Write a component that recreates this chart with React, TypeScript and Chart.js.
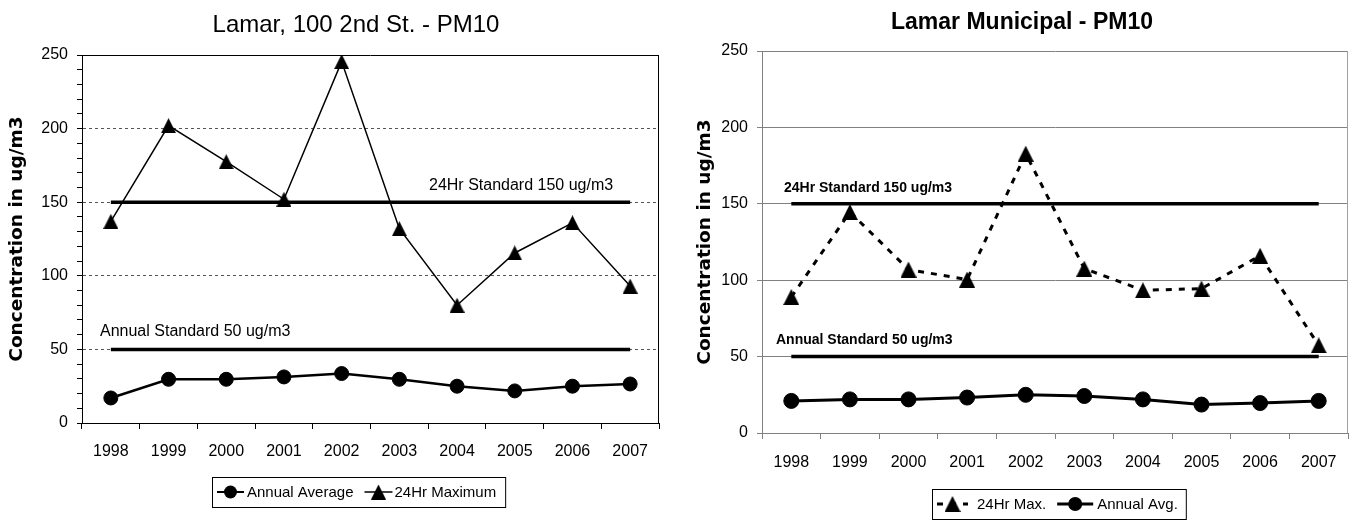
import React, { useEffect, useRef } from 'react';
import { Chart, registerables } from 'chart.js';

Chart.register(...registerables);

// ---------------- data ----------------
const YEARS = ['1998', '1999', '2000', '2001', '2002', '2003', '2004', '2005', '2006', '2007'];

const LEFT_ANNUAL_AVERAGE = [17, 29.7, 29.7, 31.3, 33.6, 29.7, 25, 21.8, 25, 26.5];
const LEFT_24HR_MAXIMUM = [137, 202, 177.5, 152, 245.5, 132, 80, 115.5, 136, 93];

const RIGHT_24HR_MAX = [89, 144.6, 107, 100.4, 182.8, 107.6, 93.4, 94.5, 116, 57.4];
const RIGHT_ANNUAL_AVG = [21, 22, 22, 23.2, 25, 24.2, 22, 18.6, 19.6, 21];

const STANDARD_24HR = [150, 150, 150, 150, 150, 150, 150, 150, 150, 150];
const STANDARD_ANNUAL = [50, 50, 50, 50, 50, 50, 50, 50, 50, 50];

const Y_MAJOR_TICKS = [0, 50, 100, 150, 200, 250];
const Y_MINOR_TICKS = [0, 10, 20, 30, 40, 50, 60, 70, 80, 90, 100, 110, 120, 130, 140, 150, 160, 170, 180, 190, 200, 210, 220, 230, 240, 250];

const LEFT_TITLE = 'Lamar, 100 2nd St. - PM10';
const RIGHT_TITLE = 'Lamar Municipal - PM10';
const Y_TITLE = 'Concentration in ug/m3';
const LABEL_24HR_STD = '24Hr Standard 150 ug/m3';
const LABEL_ANNUAL_STD = 'Annual Standard 50 ug/m3';

// ---------------- helpers ----------------
const SANS = "'Liberation Sans', Arial, sans-serif";

function makeTriangle(w: number, h: number): HTMLCanvasElement {
  const c = document.createElement('canvas');
  c.width = w;
  c.height = h;
  const g = c.getContext('2d')!;
  g.fillStyle = '#000';
  g.beginPath();
  g.moveTo(w / 2, 0);
  g.lineTo(w, h);
  g.lineTo(0, h);
  g.closePath();
  g.fill();
  return c;
}

type LegendItem = {
  label: string;
  marker: 'circle' | 'triangle';
  radius: number;
  tri?: HTMLCanvasElement;
  lineWidth: number;
  dash: number[];
  lineLen: number;
  textGap: number;
  after: number;
};

type Panel = {
  width: number;
  areaTop: number;
  padRight: number;
  xHeight: number;
  xLabelPad: number;
  minorTicks: boolean;
  gridColor: string;
  gridDash: number[];
  axisColor: string;
  frameTop: string | null;
  frameRight: string | null;
  title: { text: string; font: string; x: number; y: number };
  yTitle: { x: number; font: string };
  stdFont: string;
  stdLabels: { text: string; value: number; dx: number; dy: number }[];
  legend: { x: number; y: number; h: number; font: string; padL: number; items: LegendItem[] };
  datasets: any[];
};

function makeDecor(p: Panel) {
  return {
    id: 'decor',
    beforeDatasetsDraw(chart: any) {
      const { ctx, chartArea: a } = chart;
      ctx.save();
      ctx.lineWidth = 1;
      if (p.frameTop) {
        ctx.strokeStyle = p.frameTop;
        ctx.beginPath();
        ctx.moveTo(a.left, a.top + 0.5);
        ctx.lineTo(a.right, a.top + 0.5);
        ctx.stroke();
      }
      if (p.frameRight) {
        ctx.strokeStyle = p.frameRight;
        ctx.beginPath();
        ctx.moveTo(a.right - 0.5, a.top);
        ctx.lineTo(a.right - 0.5, a.bottom);
        ctx.stroke();
      }
      ctx.restore();
    },
    afterDraw(chart: any) {
      const { ctx, chartArea: a } = chart;
      const y = chart.scales.y;
      ctx.save();
      ctx.fillStyle = '#000';
      // title
      ctx.font = p.title.font;
      ctx.textAlign = 'center';
      ctx.textBaseline = 'alphabetic';
      ctx.fillText(p.title.text, p.title.x, p.title.y);
      // y title
      ctx.save();
      ctx.translate(p.yTitle.x, (a.top + a.bottom) / 2);
      ctx.rotate(-Math.PI / 2);
      ctx.font = p.yTitle.font;
      ctx.textAlign = 'center';
      ctx.textBaseline = 'middle';
      ctx.fillText(Y_TITLE, 0, 0);
      ctx.restore();
      // standard labels
      ctx.font = p.stdFont;
      ctx.textAlign = 'left';
      ctx.textBaseline = 'middle';
      for (const s of p.stdLabels) {
        ctx.fillText(s.text, a.left + s.dx, y.getPixelForValue(s.value) + s.dy);
      }
      // legend
      const L = p.legend;
      ctx.font = L.font;
      const cy = L.y + L.h / 2;
      let x = L.x + L.padL;
      const draws: (() => void)[] = [];
      for (const it of L.items) {
        const x0 = x;
        const x1 = x + it.lineLen;
        x = x1 + it.textGap;
        const tx = x;
        x += ctx.measureText(it.label).width + it.after;
        draws.push(() => {
          ctx.save();
          ctx.strokeStyle = '#000';
          ctx.lineWidth = it.lineWidth;
          ctx.setLineDash(it.dash);
          ctx.beginPath();
          ctx.moveTo(x0, cy);
          ctx.lineTo(x1, cy);
          ctx.stroke();
          ctx.setLineDash([]);
          const mx = (x0 + x1) / 2;
          if (it.marker === 'circle') {
            ctx.fillStyle = '#000';
            ctx.beginPath();
            ctx.arc(mx, cy, it.radius, 0, Math.PI * 2);
            ctx.fill();
          } else if (it.tri) {
            ctx.drawImage(it.tri, mx - it.tri.width / 2, cy - it.tri.height / 2);
          }
          ctx.fillStyle = '#000';
          ctx.font = L.font;
          ctx.textAlign = 'left';
          ctx.textBaseline = 'middle';
          ctx.fillText(it.label, tx, cy + 1);
          ctx.restore();
        });
      }
      const w = x - L.x;
      ctx.fillStyle = '#fff';
      ctx.fillRect(L.x, L.y, w, L.h);
      ctx.strokeStyle = '#000';
      ctx.lineWidth = 1;
      ctx.strokeRect(L.x + 0.5, L.y + 0.5, w, L.h);
      draws.forEach((d) => d());
      ctx.restore();
    },
  };
}

function buildConfig(p: Panel): any {
  const tickFont = { family: SANS, size: 16 };
  return {
    type: 'line',
    data: { labels: YEARS, datasets: p.datasets },
    options: {
      responsive: false,
      animation: false,
      devicePixelRatio: 1,
      events: [],
      layout: { padding: { left: 0, right: p.padRight, top: p.areaTop, bottom: 0 } },
      plugins: { legend: { display: false }, title: { display: false }, tooltip: { enabled: false } },
      scales: {
        x: {
          type: 'category',
          offset: true,
          grid: { offset: true, drawOnChartArea: false, drawTicks: true, tickLength: 6, tickColor: p.axisColor, color: p.axisColor },
          border: { color: p.axisColor, width: 1 },
          ticks: { font: tickFont, color: '#000', padding: p.xLabelPad, autoSkip: false, maxRotation: 0 },
          afterFit: (s: any) => {
            s.height = p.xHeight;
          },
        },
        y: {
          min: 0,
          max: 250,
          afterBuildTicks: (s: any) => {
            s.ticks = (p.minorTicks ? Y_MINOR_TICKS : Y_MAJOR_TICKS).map((v) => ({ value: v }));
          },
          ticks: {
            font: tickFont,
            color: '#000',
            padding: 9,
            autoSkip: false,
            callback: (v: any) => (Y_MAJOR_TICKS.includes(Number(v)) ? String(v) : ''),
          },
          grid: {
            drawTicks: true,
            tickLength: 5,
            tickColor: p.axisColor,
            lineWidth: 1,
            color: (c: any) => {
              const v = c.tick ? c.tick.value : -1;
              return Y_MAJOR_TICKS.includes(v) && v > 0 ? p.gridColor : 'rgba(0,0,0,0)';
            },
          },
          border: { color: p.axisColor, width: 1, dash: p.gridDash },
          afterFit: (s: any) => {
            s.width = 82;
          },
        },
      },
    },
    plugins: [makeDecor(p)],
  };
}

function buildPanels(): Panel[] {
  const triL = makeTriangle(15, 15);
  const triR = makeTriangle(16, 16);
  const left: Panel = {
    width: 680,
    areaTop: 55,
    padRight: 21,
    xHeight: 520 - 423,
    xLabelPad: 13,
    minorTicks: true,
    gridColor: '#555',
    gridDash: [3, 3],
    axisColor: '#000',
    frameTop: '#000',
    frameRight: '#000',
    title: { text: LEFT_TITLE, font: `24px ${SANS}`, x: 356, y: 32 },
    yTitle: { x: 17, font: "bold 18.5px 'DejaVu Sans', sans-serif" },
    stdFont: `16px ${SANS}`,
    stdLabels: [
      { text: LABEL_24HR_STD, value: STANDARD_24HR[0], dx: 347, dy: -16.5 },
      { text: LABEL_ANNUAL_STD, value: STANDARD_ANNUAL[0], dx: 18, dy: -18 },
    ],
    legend: {
      x: 212,
      y: 477,
      h: 30,
      font: `15px ${SANS}`,
      padL: 5,
      items: [
        { label: 'Annual Average', marker: 'circle', radius: 6.5, lineWidth: 2, dash: [], lineLen: 27, textGap: 3, after: 11 },
        { label: '24Hr Maximum', marker: 'triangle', radius: 0, tri: triL, lineWidth: 1.5, dash: [], lineLen: 28, textGap: 2, after: 9 },
      ],
    },
    datasets: [
      { label: 'Annual Average', data: LEFT_ANNUAL_AVERAGE, borderColor: '#000', borderWidth: 2.5, tension: 0, pointStyle: 'circle', pointRadius: 7, pointBackgroundColor: '#000', pointBorderColor: '#000', pointBorderWidth: 1, order: 1 },
      { label: '24Hr Maximum', data: LEFT_24HR_MAXIMUM, borderColor: '#000', borderWidth: 1.5, tension: 0, pointStyle: triL, pointRadius: 8, order: 0 },
      { label: '24Hr Standard', data: STANDARD_24HR, borderColor: '#000', borderWidth: 3.5, pointRadius: 0, order: 5 },
      { label: 'Annual Standard', data: STANDARD_ANNUAL, borderColor: '#000', borderWidth: 3.5, pointRadius: 0, order: 5 },
    ],
  };
  const right: Panel = {
    width: 679,
    areaTop: 51,
    padRight: 5,
    xHeight: 520 - 433,
    xLabelPad: 14,
    minorTicks: false,
    gridColor: '#808080',
    gridDash: [],
    axisColor: '#808080',
    frameTop: null,
    frameRight: '#a0a0a0',
    title: { text: RIGHT_TITLE, font: `bold 23px ${SANS}`, x: 342, y: 29 },
    yTitle: { x: 25, font: "bold 18.5px 'DejaVu Sans', sans-serif" },
    stdFont: `bold 14px ${SANS}`,
    stdLabels: [
      { text: LABEL_24HR_STD, value: STANDARD_24HR[0], dx: 22, dy: -15.5 },
      { text: LABEL_ANNUAL_STD, value: STANDARD_ANNUAL[0], dx: 14, dy: -16 },
    ],
    legend: {
      x: 252,
      y: 489,
      h: 30,
      font: `15px ${SANS}`,
      padL: 5,
      items: [
        { label: '24Hr Max.', marker: 'triangle', radius: 0, tri: triR, lineWidth: 3, dash: [6, 7], lineLen: 31, textGap: 9, after: 11 },
        { label: 'Annual Avg.', marker: 'circle', radius: 7, lineWidth: 3, dash: [], lineLen: 36, textGap: 4, after: 8 },
      ],
    },
    datasets: [
      { label: '24Hr Max.', data: RIGHT_24HR_MAX, borderColor: '#000', borderWidth: 3, borderDash: [6, 7], tension: 0, pointStyle: triR, pointRadius: 8, order: 0 },
      { label: 'Annual Avg.', data: RIGHT_ANNUAL_AVG, borderColor: '#000', borderWidth: 3, tension: 0, pointStyle: 'circle', pointRadius: 7.5, pointBackgroundColor: '#000', pointBorderColor: '#000', pointBorderWidth: 1, order: 1 },
      { label: '24Hr Standard', data: STANDARD_24HR, borderColor: '#000', borderWidth: 3.5, pointRadius: 0, order: 5 },
      { label: 'Annual Standard', data: STANDARD_ANNUAL, borderColor: '#000', borderWidth: 3.5, pointRadius: 0, order: 5 },
    ],
  };
  return [left, right];
}

function PanelChart({ index, left }: { index: number; left: number }) {
  const ref = useRef<HTMLCanvasElement>(null);
  const panel = buildPanels()[index];
  useEffect(() => {
    const chart = new Chart(ref.current!, buildConfig(buildPanels()[index]));
    return () => chart.destroy();
  }, [index]);
  return (
    <canvas
      ref={ref}
      width={panel.width}
      height={520}
      style={{ position: 'absolute', left, top: 0, width: panel.width, height: 520 }}
    />
  );
}

export default function App() {
  return (
    <div style={{ position: 'absolute', left: 0, top: 0, width: 1359, height: 520, background: '#fff', overflow: 'hidden' }}>
      <PanelChart index={0} left={0} />
      <PanelChart index={1} left={680} />
    </div>
  );
}
